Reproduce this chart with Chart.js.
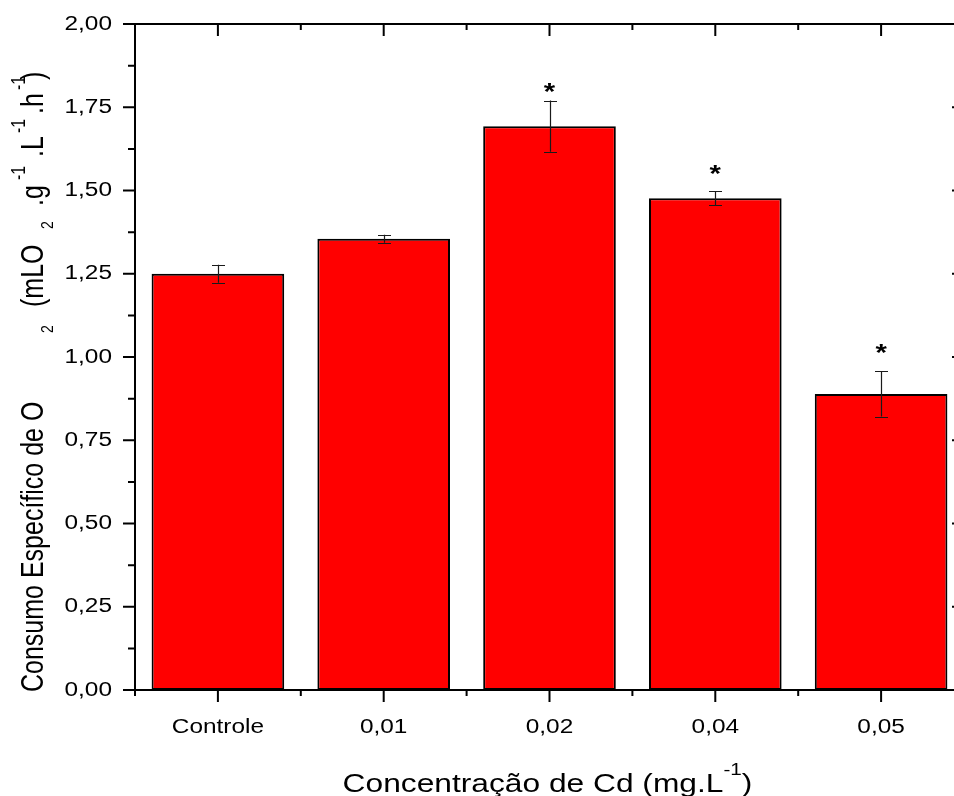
<!DOCTYPE html>
<html>
<head>
<meta charset="utf-8">
<script src="https://cdn.jsdelivr.net/npm/chart.js@4.4.1/dist/chart.umd.min.js"></script>
<style>
  html, body { margin: 0; padding: 0; background: #ffffff; overflow: hidden; }
  #wrap { position: relative; width: 980px; height: 796px; }
</style>
</head>
<body>
<div id="wrap"><canvas id="chart" width="980" height="796"></canvas></div>
<script>
// Cd concentration groups and the mean specific O2 consumption of each
const categories = ['Controle', '0,01', '0,02', '0,04', '0,05'];
const meanValues = [1.250, 1.355, 1.693, 1.477, 0.889];
const errorValues = [0.027, 0.012, 0.077, 0.021, 0.068];
// groups marked as significantly different, and the height of each marker
const significant = [false, false, true, true, true];
const markerValues = [null, null, 1.813, 1.566, 1.029];
const yTickLabels = ['0,00', '0,25', '0,50', '0,75', '1,00', '1,25', '1,50', '1,75', '2,00'];

const FONT = '"Liberation Sans", Arial, sans-serif';
const STRETCH = 1.22; // wide lettering

// draws every label a little wider than the font's natural shape
const wideText = {
  id: 'wideText',
  beforeDraw(chart) {
    const ctx = chart.ctx;
    const orig = CanvasRenderingContext2D.prototype.fillText;
    ctx.fillText = function (t, x, y, mw) {
      this.save();
      this.translate(x, y);
      this.scale(STRETCH, 1);
      if (mw === undefined) orig.call(this, t, 0, 0); else orig.call(this, t, 0, 0, mw);
      this.restore();
    };
  },
  afterDraw(chart) {
    delete chart.ctx.fillText;
  }
};

// error bars on top of each bar
const errorBars = {
  id: 'errorBars',
  afterDatasetsDraw(chart) {
    const ctx = chart.ctx;
    const meta = chart.getDatasetMeta(0);
    const y = chart.scales.y;
    ctx.save();
    ctx.strokeStyle = '#1a1a1a';
    ctx.lineWidth = 1.2;
    meta.data.forEach((bar, i) => {
      const yt = y.getPixelForValue(meanValues[i] + errorValues[i]);
      const yb = y.getPixelForValue(meanValues[i] - errorValues[i]);
      const x = Math.round(bar.x) + 0.5;
      ctx.beginPath();
      ctx.moveTo(x, yt); ctx.lineTo(x, yb);
      ctx.moveTo(x - 6.5, Math.round(yt) + 0.5); ctx.lineTo(x + 6.5, Math.round(yt) + 0.5);
      ctx.moveTo(x - 6.5, Math.round(yb) + 0.5); ctx.lineTo(x + 6.5, Math.round(yb) + 0.5);
      ctx.stroke();
    });
    ctx.restore();
  }
};

// frame, tick marks, significance markers and axis titles
const frame = {
  id: 'frame',
  afterDraw(chart) {
    const ctx = chart.ctx;
    const { left, right, top, bottom } = chart.chartArea;
    const x = chart.scales.x, y = chart.scales.y;
    const orig = CanvasRenderingContext2D.prototype.fillText;
    ctx.save();
    ctx.strokeStyle = '#000';
    ctx.lineWidth = 2;
    ctx.beginPath();
    ctx.moveTo(left, top); ctx.lineTo(right, top); ctx.lineTo(right, bottom);
    ctx.stroke();

    ctx.beginPath();
    // y ticks: left outward, right inward
    for (let v = 0; v <= 2.0001; v += 0.125) {
      const p = y.getPixelForValue(v);
      const major = Math.abs(v / 0.25 - Math.round(v / 0.25)) < 1e-6;
      const len = major ? 12 : 7;
      ctx.moveTo(left - len, p); ctx.lineTo(left, p);
      ctx.moveTo(right, p); ctx.lineTo(right - len, p);
    }
    // x ticks: bottom outward, top inward
    const step = x.getPixelForValue(1) - x.getPixelForValue(0);
    categories.forEach((c, i) => {
      const p = x.getPixelForValue(i);
      ctx.moveTo(p, bottom); ctx.lineTo(p, bottom + 12);
      ctx.moveTo(p, top); ctx.lineTo(p, top + 12);
    });
    for (let i = 0; i <= categories.length; i++) {
      const p = x.getPixelForValue(i) - step / 2;
      ctx.moveTo(p, bottom); ctx.lineTo(p, bottom + 6);
      ctx.moveTo(p, top); ctx.lineTo(p, top + 6);
    }
    ctx.stroke();

    // significance markers
    ctx.fillStyle = '#000';
    ctx.font = 'bold 24px ' + FONT;
    ctx.textAlign = 'center';
    ctx.textBaseline = 'alphabetic';
    categories.forEach((c, i) => {
      if (!significant[i]) return;
      const cy = y.getPixelForValue(markerValues[i]);
      const px = x.getPixelForValue(i);
      ctx.save();
      ctx.translate(px, cy + 0.57 * 24);
      ctx.scale(STRETCH, 1);
      orig.call(ctx, '*', 0, 0);
      ctx.restore();
    });

    // x title with superscript
    ctx.textAlign = 'left';
    const xt = [
      { t: 'Concentração de Cd (mg.L', s: 26, d: 0 },
      { t: '-1', s: 17, d: -17 },
      { t: ')', s: 26, d: 0 }
    ];
    let w = 0;
    xt.forEach(seg => { ctx.font = seg.s + 'px ' + FONT; seg.w = ctx.measureText(seg.t).width; w += seg.w; });
    let cx = (left + right) / 2 - 2 - STRETCH * w / 2;
    xt.forEach(seg => {
      ctx.font = seg.s + 'px ' + FONT;
      ctx.save();
      ctx.translate(cx, 792 + seg.d);
      ctx.scale(STRETCH, 1);
      orig.call(ctx, seg.t, 0, 0);
      ctx.restore();
      cx += STRETCH * seg.w;
    });

    // y title, rotated, with sub- and superscripts
    const yt = [
      { t: 'Consumo Específico de O', s: 25, y: 692, v: 0 },
      { t: '2', s: 14, y: 333, v: 8 },
      { t: '(mLO', s: 25, y: 307, v: 0 },
      { t: '2', s: 14, y: 229, v: 8 },
      { t: '.g', s: 25, y: 206, v: 0 },
      { t: '-1', s: 16, y: 180, v: -15 },
      { t: '.L', s: 25, y: 157, v: 0 },
      { t: '-1', s: 16, y: 133, v: -15 },
      { t: '.h', s: 25, y: 114, v: 0 },
      { t: '-1', s: 16, y: 90, v: -15 },
      { t: ')', s: 25, y: 80, v: 0 }
    ];
    yt.forEach(seg => {
      ctx.font = seg.s + 'px ' + FONT;
      ctx.save();
      ctx.translate(43, seg.y);
      ctx.scale(STRETCH, 1);
      ctx.rotate(-Math.PI / 2);
      orig.call(ctx, seg.t, 0, seg.v);
      ctx.restore();
    });
    ctx.restore();
  }
};

new Chart(document.getElementById('chart'), {
  type: 'bar',
  data: {
    labels: categories,
    datasets: [{
      data: meanValues,
      backgroundColor: '#ff0000',
      borderColor: '#000000',
      borderWidth: 2,
      borderSkipped: false,
      barPercentage: 0.8,
      categoryPercentage: 1.0
    }]
  },
  options: {
    responsive: false,
    animation: false,
    devicePixelRatio: 1,
    layout: { padding: { left: 0, top: 24, right: 16, bottom: 0 } },
    plugins: { legend: { display: false }, tooltip: { enabled: false } },
    scales: {
      x: {
        type: 'category',
        offset: true,
        grid: { display: false, drawTicks: false },
        border: { display: true, color: '#000', width: 2 },
        ticks: { color: '#000', font: { family: FONT, size: 20 }, padding: 25, autoSkip: false, maxRotation: 0 },
        afterFit(scale) { scale.height = 106; scale.paddingLeft = 0; scale.paddingRight = 0; }
      },
      y: {
        min: 0,
        max: 2,
        grid: { display: false, drawTicks: false },
        border: { display: true, color: '#000', width: 2 },
        ticks: {
          stepSize: 0.25,
          color: '#000',
          font: { family: FONT, size: 20 },
          padding: 23,
          callback: (v, i) => yTickLabels[i]
        },
        afterFit(scale) { scale.width = 135; scale.paddingTop = 0; scale.paddingBottom = 0; }
      }
    }
  },
  plugins: [wideText, errorBars, frame]
});
</script>
</body>
</html>
